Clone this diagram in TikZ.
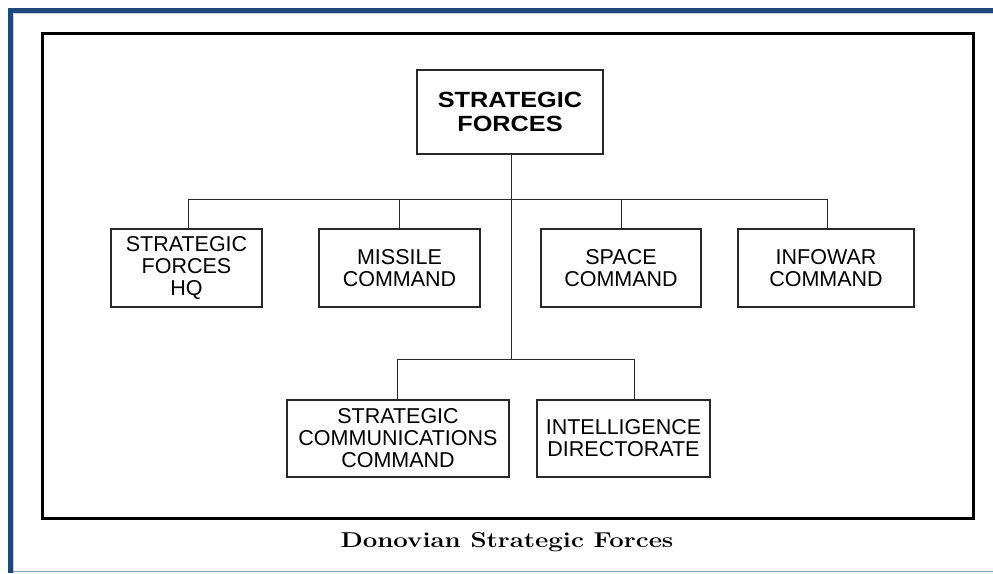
\documentclass[tikz,border=0pt]{standalone}
\usepackage{fontspec}
\newfontfamily\boxfont{Liberation Sans}
\newfontfamily\topfont[FakeStretch=1.15]{Liberation Sans}
\newfontfamily\capfont[FakeStretch=1.2]{Latin Modern Roman}
\definecolor{bandblue}{RGB}{31,73,125}
\definecolor{paleblue}{RGB}{190,205,228}
\definecolor{bottomblue}{RGB}{130,158,200}
\definecolor{boxline}{RGB}{40,40,40}
\tikzset{
  unitbox/.style={draw=boxline, line width=1.3pt, fill=white, inner sep=0pt, align=center,
    font=\boxfont\fontsize{21.5}{22}\selectfont, minimum height=78pt},
  headbox/.style={draw=boxline, line width=1.3pt, fill=white, inner sep=0pt, align=center,
    font=\topfont\bfseries\fontsize{22}{24}\selectfont, minimum width=186pt, minimum height=84pt},
  conn/.style={draw=boxline, line width=1pt},
  frameline/.style={draw=black, line width=3pt},
  caption/.style={font=\capfont\bfseries\fontsize{21.5}{24}\selectfont, inner sep=0pt, anchor=base}
}
\begin{document}
\begin{tikzpicture}[x=1pt,y=-1pt]
\useasboundingbox (0,0) rectangle (993,573);
% page decoration
\fill[bandblue] (8,8) rectangle (993,13);
\fill[bandblue] (8,8) rectangle (13,573);
\draw[paleblue, line width=0.8pt] (13,13.6) -- (993,13.6);
\draw[paleblue, line width=0.8pt] (13.6,13) -- (13.6,573);
\draw[bottomblue, line width=1pt] (13,571.5) -- (993,571.5);
% frame
\draw[frameline] (42.5,33.5) rectangle (973.5,518.5);
% boxes
\node[headbox] (top) at (510,112) {STRATEGIC\\FORCES};
\node[unitbox, minimum width=151pt] (b1) at (186.5,268) {STRATEGIC\\FORCES\\HQ};
\node[unitbox, minimum width=161pt] (b2) at (399.5,268) {MISSILE\\COMMAND};
\node[unitbox, minimum width=160pt] (b3) at (621,268) {SPACE\\COMMAND};
\node[unitbox, minimum width=176pt] (b4) at (826,268) {INFOWAR\\COMMAND};
\node[unitbox, minimum width=222pt, minimum height=77pt] (b5) at (398,438.5) {STRATEGIC\\COMMUNICATIONS\\COMMAND};
\node[unitbox, minimum width=173pt, minimum height=77pt] (b6) at (623.5,438.5) {INTELLIGENCE\\DIRECTORATE};
% connectors
\coordinate (busL) at (188,199);
\coordinate (busR) at (827,199);
\coordinate (trunkEnd) at (511,359);
\coordinate (lbusL) at (397,359);
\coordinate (lbusR) at (634,359);
\draw[conn] (top.south -| trunkEnd) -- (trunkEnd);
\draw[conn] (busL) -- (busR);
\draw[conn] (busL) -- (busL |- b1.north);
\draw[conn] (b2.north |- busL) -- (b2.north);
\draw[conn] (b3.north |- busL) -- (b3.north);
\draw[conn] (busR) -- (busR |- b4.north);
\draw[conn] (lbusL) -- (lbusR);
\draw[conn] (lbusL) -- (lbusL |- b5.north);
\draw[conn] (lbusR) -- (lbusR |- b6.north);
% caption
\node[caption] (cap) at (507,547) {Donovian Strategic Forces};
\end{tikzpicture}
\end{document}
